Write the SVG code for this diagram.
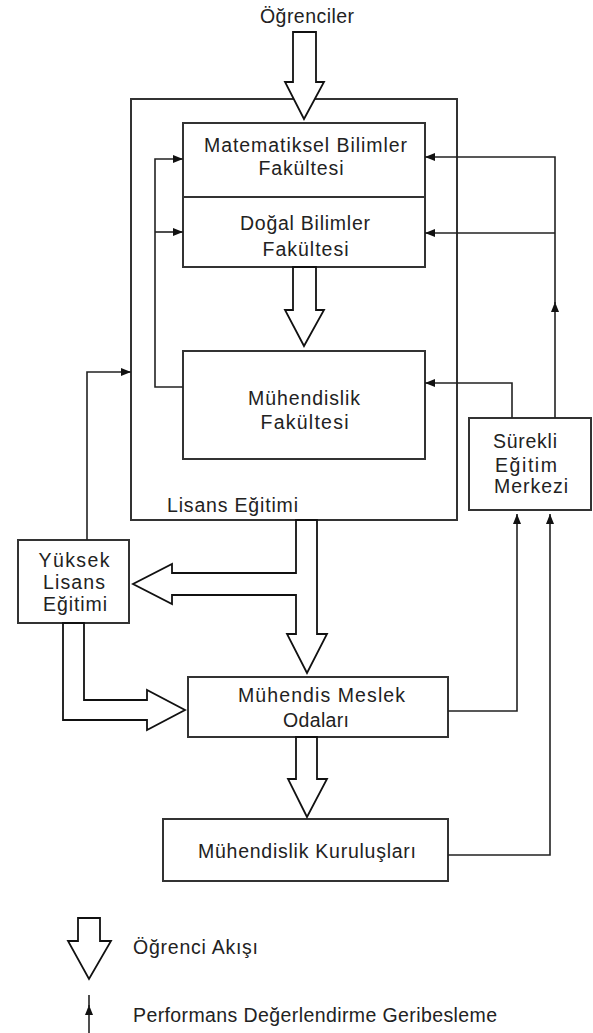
<svg xmlns="http://www.w3.org/2000/svg" width="593" height="1033" viewBox="0 0 593 1033">
<style>
.box{fill:#fff;stroke:#333;stroke-width:2}
.ln{fill:none;stroke:#222;stroke-width:1.6}
.flow{fill:#fff;stroke:#111;stroke-width:1.8;stroke-linejoin:miter}
.t{font-family:"Liberation Sans",Arial,sans-serif;font-size:19.5px;fill:#222;text-anchor:middle}
.s{text-anchor:start}
</style>
<defs>
<marker id="ah" viewBox="0 0 10 8" refX="10" refY="4" markerWidth="10" markerHeight="8" markerUnits="userSpaceOnUse" orient="auto"><path d="M0,0 L10,4 L0,8 z" fill="#111"/></marker>
</defs>
<rect width="593" height="1033" fill="#fff"/>
<g id="lisans"><rect class="box" x="131" y="99" width="326" height="421"/><text class="t s" x="167" y="512" textLength="131" lengthAdjust="spacing">Lisans Eğitimi</text></g>
<g id="matematik"><rect class="box" x="183" y="123" width="242" height="74"/><text class="t" x="305.5" y="152" textLength="203" lengthAdjust="spacing">Matematiksel Bilimler</text><text class="t" x="301" y="175" textLength="85" lengthAdjust="spacing">Fakültesi</text></g>
<g id="dogal"><rect class="box" x="183" y="197" width="242" height="70"/><text class="t" x="305" y="230" textLength="130" lengthAdjust="spacing">Doğal Bilimler</text><text class="t" x="305.5" y="256" textLength="86" lengthAdjust="spacing">Fakültesi</text></g>
<g id="muhfak"><rect class="box" x="183" y="351" width="242" height="108"/><text class="t" x="304" y="405" textLength="112" lengthAdjust="spacing">Mühendislik</text><text class="t" x="304.5" y="429" textLength="88" lengthAdjust="spacing">Fakültesi</text></g>
<g id="surekli"><rect class="box" x="469" y="418" width="122" height="92"/><text class="t" x="525" y="448" textLength="64" lengthAdjust="spacing">Sürekli</text><text class="t" x="526" y="472" textLength="62" lengthAdjust="spacing">Eğitim</text><text class="t" x="531" y="493" textLength="74" lengthAdjust="spacing">Merkezi</text></g>
<g id="yuksek"><rect class="box" x="18" y="540" width="111" height="83"/><text class="t" x="74" y="567" textLength="71" lengthAdjust="spacing">Yüksek</text><text class="t" x="74" y="589" textLength="62" lengthAdjust="spacing">Lisans</text><text class="t" x="75" y="611" textLength="64" lengthAdjust="spacing">Eğitimi</text></g>
<g id="meslek"><rect class="box" x="188" y="677" width="260" height="60"/><text class="t" x="321.5" y="702" textLength="167" lengthAdjust="spacing">Mühendis Meslek</text><text class="t" x="316" y="727" textLength="66" lengthAdjust="spacing">Odaları</text></g>
<g id="kurulus"><rect class="box" x="163" y="819" width="285" height="62"/><text class="t" x="307" y="858" textLength="218" lengthAdjust="spacing">Mühendislik Kuruluşları</text></g>
<g id="ogrenciler"><text class="t" x="307" y="23" textLength="94" lengthAdjust="spacing">Öğrenciler</text></g>
<g id="connectors">
<polygon class="flow" points="293,32 316,32 316,82 324,82 304,119 285,82 293,82"/>
<polygon class="flow" points="293,267 316,267 316,310 324,310 304,346 285,310 293,310"/>
<polygon class="flow" points="296,520 296,573 172,573 172,564 133,584 172,604 172,595 296,595 296,634 287,634 307,673 327,634 317,634 317,520"/>
<polygon class="flow" points="84,623 84,700 147,700 147,690 185,710 147,730 147,720 63,720 63,623"/>
<polygon class="flow" points="296,737 317,737 317,779 327,779 307,817 288,779 296,779"/>
<path class="ln" d="M555,418 V302" marker-end="url(#ah)"/>
<path class="ln" d="M555,305 V157 H425" marker-end="url(#ah)"/>
<path class="ln" d="M555,233 H425" marker-end="url(#ah)"/>
<path class="ln" d="M512,418 V383 H425" marker-end="url(#ah)"/>
<path class="ln" d="M448,711 H517 V514" marker-end="url(#ah)"/>
<path class="ln" d="M448,855 H550 V514" marker-end="url(#ah)"/>
<path class="ln" d="M183,387 H155 V159 H183" marker-end="url(#ah)"/>
<path class="ln" d="M155,232 H183" marker-end="url(#ah)"/>
<path class="ln" d="M87,540 V372 H131" marker-end="url(#ah)"/>
</g>
<g id="legend">
<polygon class="flow" points="78,918 100,918 100,941 111,941 89,979 68,941 78,941"/>
<text class="t s" x="133" y="954" textLength="125" lengthAdjust="spacing">Öğrenci Akışı</text>
<path class="ln" d="M89,1033 V1005" marker-end="url(#ah)"/>
<path class="ln" d="M89,1008 V995"/>
<text class="t s" x="133" y="1022" textLength="364" lengthAdjust="spacing">Performans Değerlendirme Geribesleme</text>
</g>
</svg>
